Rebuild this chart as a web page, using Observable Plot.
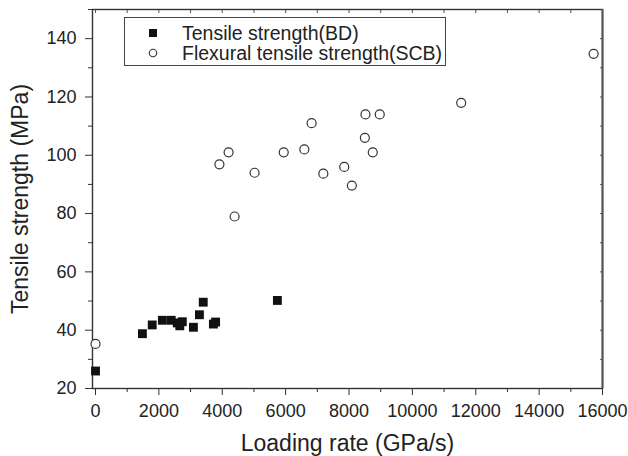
<!DOCTYPE html>
<html>
<head>
<meta charset="utf-8">
<script src="https://cdn.jsdelivr.net/npm/d3@7"></script>
<script src="https://cdn.jsdelivr.net/npm/@observablehq/plot@0.6"></script>
<style>
  html, body { margin: 0; padding: 0; background: #fff; }
  #wrap { position: relative; width: 628px; height: 456px; font-family: "Liberation Sans", Arial, sans-serif; }
  #legend { position: absolute; left: 124px; top: 17px; width: 322px; height: 49px; border: 1px solid #444; background: #fff; box-sizing: border-box; }
  .row { position: absolute; left: 0; height: 20px; display: flex; align-items: center; font-size: 19.5px; color: #222; white-space: nowrap; }
  .row svg { margin-left: 23px; margin-right: 24px; }
</style>
</head>
<body>
<div id="wrap"></div>
<script>
// Data
const bdRate = [0, 1480, 1790, 2110, 2390, 2580, 2660, 2740, 3090, 3280, 3400, 3720, 3790, 5740];
const bdStrength = [26, 38.8, 41.8, 43.4, 43.4, 42.5, 41.5, 42.9, 41, 45.3, 49.6, 42.1, 42.8, 50.2];
const scbRate = [0, 3910, 4200, 4390, 5020, 5940, 6590, 6820, 7190, 7850, 8090, 8500, 8520, 8750, 8970, 11540, 15720];
const scbStrength = [35.3, 96.9, 101, 79, 94, 101, 102, 111, 93.7, 96, 89.6, 106, 114, 101, 114, 118, 134.8];
const seriesNames = ["Tensile strength(BD)", "Flexural tensile strength(SCB)"];
const xTicks = [0, 2000, 4000, 6000, 8000, 10000, 12000, 14000, 16000];
const xMinor = [1000, 3000, 5000, 7000, 9000, 11000, 13000, 15000];
const yTicks = [20, 40, 60, 80, 100, 120, 140];
const yMinor = [30, 50, 70, 90, 110, 130, 150];
const xLabel = "Loading rate (GPa/s)";
const yLabel = "Tensile strength (MPa)";

const bd = bdRate.map((x, i) => ({x, y: bdStrength[i]}));
const scb = scbRate.map((x, i) => ({x, y: scbStrength[i]}));
const noText = () => "";
const plain = d3.format("d");

const chart = Plot.plot({
  width: 628,
  height: 456,
  marginLeft: 92,
  marginRight: 26,
  marginTop: 9,
  marginBottom: 68,
  style: {fontFamily: "'Liberation Sans', Arial, sans-serif", color: "#222", background: "#fff"},
  x: {domain: [-95, 16000]},
  y: {domain: [20, 150]},
  marks: [
    Plot.axisX({ticks: xTicks, tickSize: 7, tickPadding: 9, fontSize: 18, tickFormat: plain, label: null, stroke: "#333"}),
    Plot.axisX({ticks: xMinor, tickSize: 4, tickFormat: noText, label: null, stroke: "#333"}),
    Plot.axisY({ticks: yTicks, tickSize: 7, tickPadding: 9, fontSize: 18, tickFormat: plain, label: null, stroke: "#333"}),
    Plot.axisY({ticks: yMinor, tickSize: 4, tickFormat: noText, label: null, stroke: "#333"}),
    Plot.axisX({anchor: "top", ticks: xTicks.concat(xMinor), tickSize: -3, tickFormat: noText, label: null, stroke: "#555"}),
    Plot.axisY({anchor: "right", ticks: yTicks.concat(yMinor), tickSize: -3, tickFormat: noText, label: null, stroke: "#555"}),
    Plot.frame({stroke: "#333", strokeWidth: 1.4}),
    Plot.ruleX([16000], {stroke: "#555", strokeWidth: 2}),
    Plot.text([xLabel], {text: d => d, frameAnchor: "bottom", textAnchor: "middle", lineAnchor: "middle", dy: 55, fontSize: 23, fill: "#222"}),
    Plot.text([yLabel], {text: d => d, frameAnchor: "left", textAnchor: "middle", lineAnchor: "middle", rotate: -90, dx: -72, fontSize: 23, fill: "#222"}),
    Plot.dot(bd, {x: "x", y: "y", symbol: "square", r: 5, fill: "#111", stroke: "none"}),
    Plot.dot(scb, {x: "x", y: "y", r: 4.5, fill: "#fff", stroke: "#333", strokeWidth: 1.2})
  ]
});

const wrap = document.getElementById("wrap");
wrap.appendChild(chart);

const legend = document.createElement("div");
legend.id = "legend";
legend.innerHTML = `
  <div class="row" style="top:5px"><svg width="10" height="10"><rect x="1" y="1" width="8" height="8" fill="#111"/></svg><span>${seriesNames[0]}</span></div>
  <div class="row" style="top:25px"><svg width="10" height="10"><circle cx="5" cy="5" r="3.7" fill="#fff" stroke="#333" stroke-width="1.1"/></svg><span>${seriesNames[1]}</span></div>`;
wrap.appendChild(legend);
</script>
</body>
</html>
